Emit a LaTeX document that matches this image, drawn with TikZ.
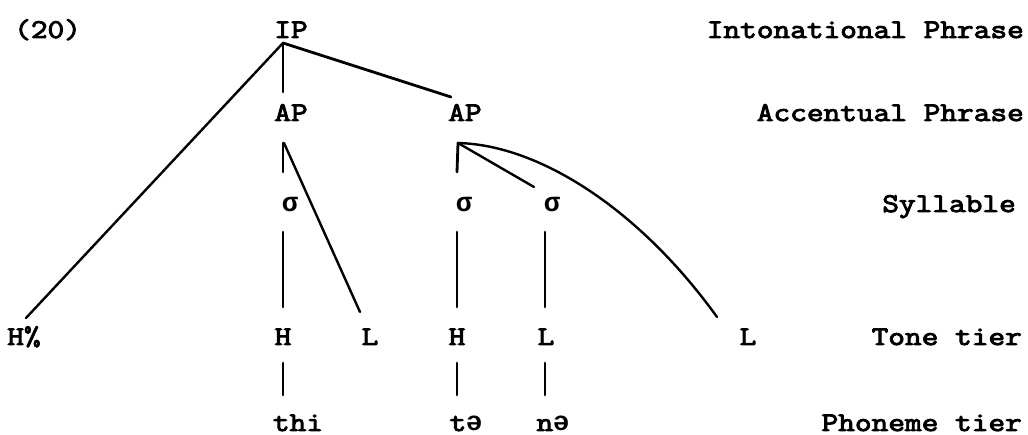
\documentclass[tikz,border=0pt]{standalone}
\usepackage{fontspec}
\newfontfamily\tw[FakeBold=3.5,FakeStretch=1.2]{Latin Modern Mono}
\newfontfamily\ipa{Liberation Mono}
\newcommand{\schwa}{{\ipa\bfseries ə}}
\newcommand{\syl}{{\ipa\bfseries σ}}
\usetikzlibrary{calc}
\tikzset{
  lab/.style={inner sep=0pt, anchor=base, font=\fontsize{27}{33}\selectfont\tw},
  tierlab/.style={lab, anchor=base east},
  assoc/.style={line width=2.8pt, line cap=round},
  thinassoc/.style={line width=2.4pt, line cap=round}
}
\begin{document}
\begin{tikzpicture}[x=1pt,y=-1pt]
\useasboundingbox (0,0) rectangle (1028,435);
% example number
\node[lab, anchor=base west] (ex) at (14,38) {(20)};
% tree nodes
\node[lab] (IP)  at (291,38) {IP};
\node[lab] (AP1) at (291,121) {AP};
\node[lab] (AP2) at (465,121) {AP};
\node[lab] (s1)  at (290,212) {\syl};
\node[lab] (s2)  at (464,212) {\syl};
\node[lab] (s3)  at (552,212) {\syl};
\node[lab] (Hp)  at (24,345) {H\%};
\node[lab] (H1)  at (283,345) {H};
\node[lab] (L1)  at (370,345) {L};
\node[lab] (H2)  at (457,345) {H};
\node[lab] (L2)  at (546,345) {L};
\node[lab] (L3)  at (748,345) {L};
\node[lab] (thi) at (298,431) {thi};
\node[lab] (te)  at (466,431) {t\schwa};
\node[lab] (ne)  at (553,431) {n\schwa};
% tier labels
\node[tierlab] (tIP)  at (1024,38)  {Intonational Phrase};
\node[tierlab] (tAP)  at (1024,121) {Accentual Phrase};
\node[tierlab] (tSyl) at (1016,212) {Syllable};
\node[tierlab] (tTone) at (1022,345) {Tone tier};
\node[tierlab] (tPh)  at (1022,431) {Phoneme tier};
% IP connections
\draw[assoc] ($(IP.base)+(-8,5)$) -- ($(AP1.base)+(-8,-29)$);
\draw[assoc] ($(IP.base)+(-8,5)$) -- ($(AP2.base)+(-14,-24)$);
\draw[thinassoc] ($(IP.base)+(-8,5)$) -- ($(Hp.base)+(2,-27)$);
% AP1 connections
\draw[assoc] ($(AP1.base)+(-8,22)$) -- ($(s1.base)+(-7,-40)$);
\draw[thinassoc] ($(AP1.base)+(-7,22)$) -- ($(L1.base)+(-10,-33)$);
% AP2 connections
\draw[assoc] ($(AP2.base)+(-7,22)$) -- ($(s2.base)+(-7,-40)$);
\draw[thinassoc] ($(AP2.base)+(-7,22)$) -- ($(s3.base)+(-18,-25)$);
\draw[thinassoc] ($(AP2.base)+(-7,22)$) .. controls (540,145) and (640,210) .. ($(L3.base)+(-31,-28)$);
% syllable to tone
\draw[assoc] ($(s1.base)+(-7,20)$) -- ($(H1.base)+(0,-38)$);
\draw[assoc] ($(s2.base)+(-7,20)$) -- ($(H2.base)+(0,-38)$);
\draw[assoc] ($(s3.base)+(-7,20)$) -- ($(L2.base)+(-1,-38)$);
% tone to phoneme
\draw[assoc] ($(H1.base)+(0,18)$) -- ($(thi.base)+(-15,-36)$);
\draw[assoc] ($(H2.base)+(0,18)$) -- ($(te.base)+(-9,-36)$);
\draw[assoc] ($(L2.base)+(-1,18)$) -- ($(ne.base)+(-8,-36)$);
\end{tikzpicture}
\end{document}
